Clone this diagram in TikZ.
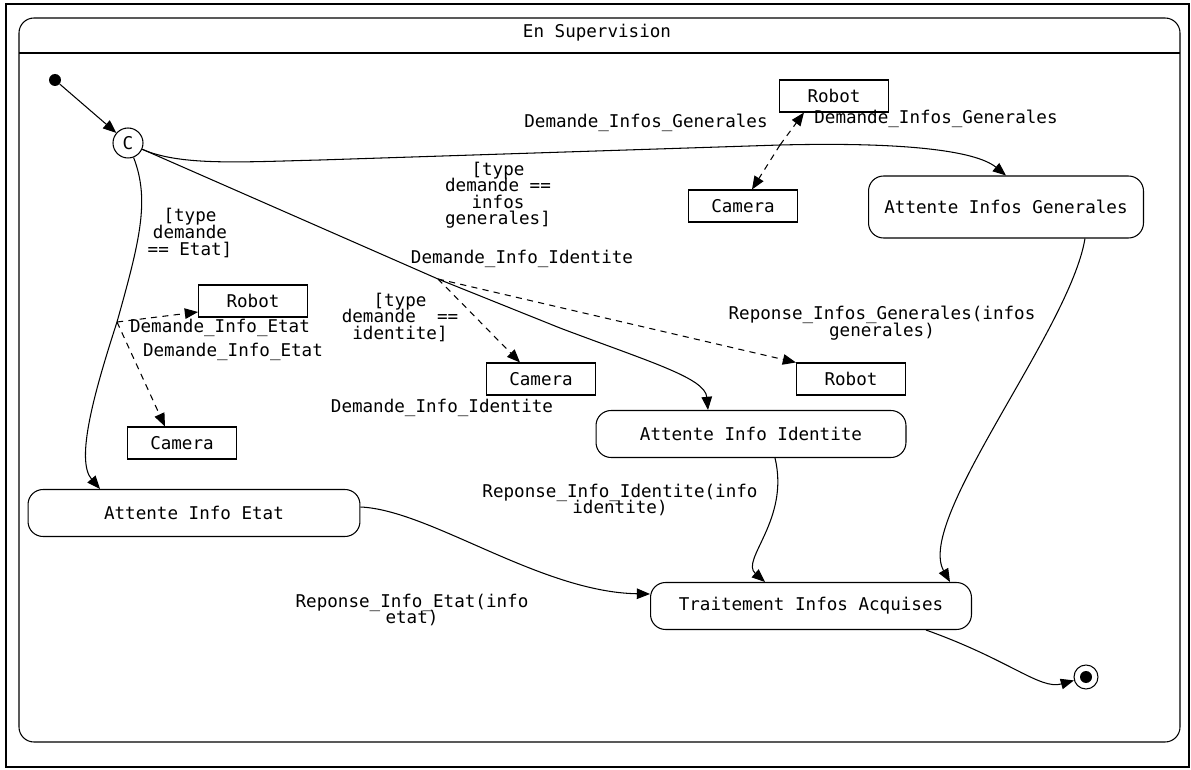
\documentclass[tikz,border=0pt]{standalone}
\usepackage{fontspec}
\setmonofont{DejaVu Sans Mono}
\usepackage{tikz}
\usetikzlibrary{arrows.meta,shapes,positioning,calc}
\newcommand\diafont{\ttfamily\fontsize{10}{9.4}\selectfont\lineskiplimit=-5pt}
\tikzstyle{statebox}=[draw, rounded corners=0.3cm, minimum height=0.94cm, line width=0.6pt]
\tikzstyle{objbox}=[draw, minimum width=2.18cm, minimum height=0.64cm, line width=0.6pt]
\tikzstyle{lbl}=[align=center, inner sep=0pt]
\tikzstyle{initst}=[circle, fill, inner sep=0pt, minimum size=0.24cm]
\tikzstyle{choice}=[circle, draw, inner sep=0pt, minimum size=0.6cm, line width=0.6pt]
\tikzstyle{finst}=[circle, draw, inner sep=0pt, minimum size=0.48cm, line width=0.6pt,
  path picture={\fill (path picture bounding box.center) circle (0.12cm);}]
\tikzstyle{trans}=[line width=0.6pt, -{Triangle[length=7.5pt,width=6pt]}]
\tikzstyle{msg}=[trans, dash pattern=on 3.5pt off 3pt]

\begin{document}
\begin{tikzpicture}[x=0.02cm, y=-0.02cm, every node/.style={font=\diafont}]
\useasboundingbox (0,0) rectangle (1191,770);
\draw[line width=0.6pt] (6,4) rectangle (1189,767);
\draw[line width=0.6pt, rounded corners=0.3cm] (19,18) rectangle (1180,742);
\draw[line width=0.6pt] (19,53) -- (1180,53);
\node (titre) at (597,33) {En Supervision};

\node[initst] (init) at (55,80) {};
\node[choice] (c) at (128,143) {C};
\node[finst] (fin) at (1086,677) {};

\node[statebox, minimum width=5.5cm, minimum height=1.24cm] (gen) at (1006,207) {Attente Infos Generales};
\node[statebox, minimum width=6.2cm] (ident) at (751,434) {Attente Info Identite};
\node[statebox, minimum width=6.64cm] (etat) at (194,513) {Attente Info Etat};
\node[statebox, minimum width=6.42cm] (trait) at (811,606) {Traitement Infos Acquises};

\foreach \nm/\txt/\x/\y in {robotg/Robot/834/96, camg/Camera/743/206, robotl/Robot/253/301,
  caml/Camera/182/443, camm/Camera/541/379, robotr/Robot/851/379}
  \node[objbox] (\nm) at (\x,\y) {\txt};

\coordinate (m1) at (780,145);
\coordinate (m2) at (438,279);
\coordinate (m3) at (117,322);

\draw[trans] (init) -- (c);
\draw[trans] (c) .. controls (180,166) and (240,162) .. (320,160) -- (m1) .. controls (900,142) and (975,150) .. (gen.north);
\draw[trans] (c) -- (m2) -- (560,328) .. controls (650,362) and (705,378) .. ([xshift=-0.86cm]ident.north);
\draw[trans] (c) .. controls (150,200) and (140,240) .. (m3) .. controls (95,390) and (75,460) .. ([xshift=-1.88cm]etat.north);
\draw[trans] ([yshift=0.12cm]etat.east) .. controls (430,510) and (540,592) .. ([yshift=0.24cm]trait.west);
\draw[trans] ([xshift=0.48cm]ident.south) .. controls (790,520) and (740,560) .. ([xshift=-0.92cm]trait.north);
\draw[trans] ([xshift=1.58cm]gen.south) .. controls (1070,330) and (915,520) .. ([xshift=2.78cm]trait.north);
\draw[trans] ([xshift=2.3cm]trait.south) .. controls (1010,660) and (1040,690) .. (fin);

\draw[msg] (m1) -- ([xshift=0.5cm]robotg.south west);
\draw[msg] (m1) -- ([xshift=0.18cm]camg.north);
\draw[msg] (m2) -- ([xshift=-0.42cm]camm.north);
\draw[msg] (m2) -- (robotr.north west);
\draw[msg] (m3) -- ([yshift=-0.22cm]robotl.west);
\draw[msg] (m3) -- ([xshift=-0.34cm]caml.north);

\foreach \nm/\x/\y/\txt in {lgen1/646/123/Demande\_Infos\_Generales,
  lgen2/936/119/Demande\_Infos\_Generales,
  gguard/498/195/{[type\\demande ==\\infos\\generales]},
  eguard/190/233/{[type\\demande\\== Etat]},
  lid1/522/259/Demande\_Info\_Identite,
  iguard/400/317/{[type\\demande\ \ ==\\identite]},
  let1/220/328/Demande\_Info\_Etat,
  let2/233/352/Demande\_Info\_Etat,
  lid2/442/408/Demande\_Info\_Identite,
  rgen/882/323/{Reponse\_Infos\_Generales(infos\\generales)},
  rid/620/500/{Reponse\_Info\_Identite(info\\identite)},
  ret/412/610/{Reponse\_Info\_Etat(info\\etat)}}
  \node[lbl] (\nm) at (\x,\y) {\txt};
\end{tikzpicture}
\end{document}
